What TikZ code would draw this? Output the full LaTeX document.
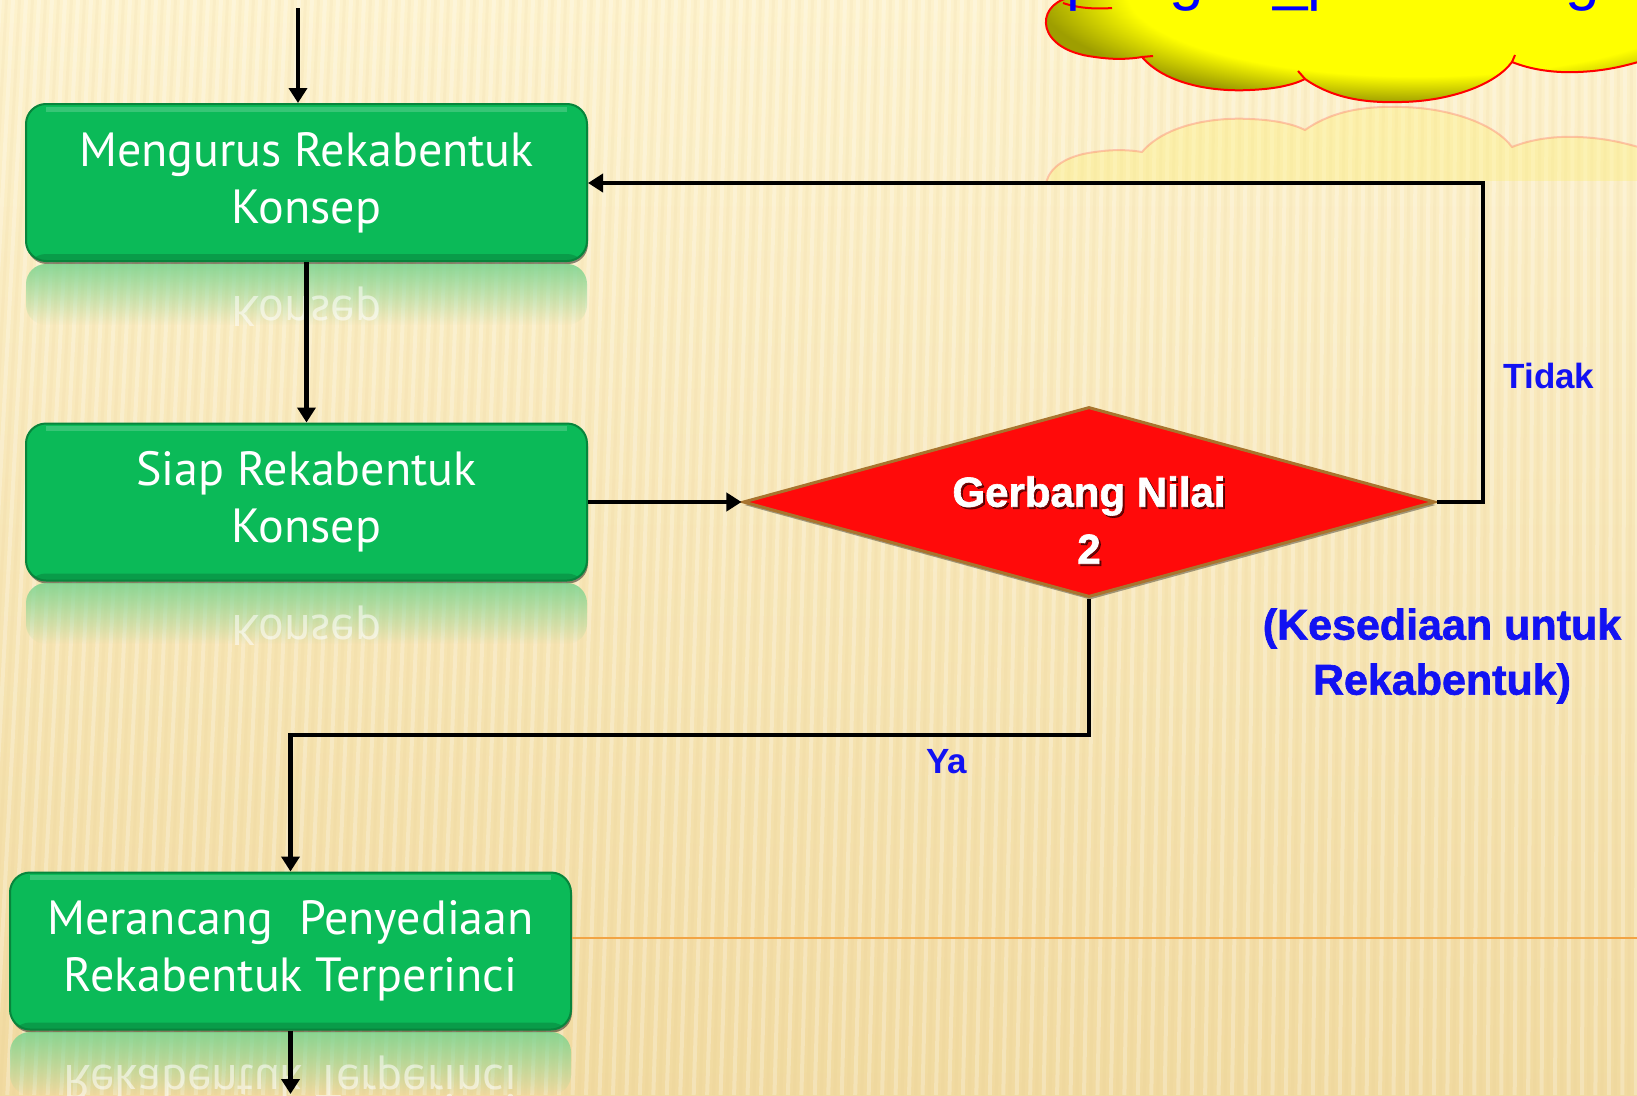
\documentclass[tikz,border=0pt]{standalone}
\usepackage{fontspec}
\setmainfont{PT Sans}
\newfontfamily\lsans{Liberation Sans}
\newfontfamily\heavy[BoldFeatures={FakeBold=1.5}]{Liberation Sans}
\usetikzlibrary{arrows.meta,shapes.geometric,shadows,fadings}
\definecolor{bgtop}{HTML}{FDF2CD}
\definecolor{bgbot}{HTML}{F1DAA0}
\definecolor{boxgreen}{HTML}{0BBA58}
\definecolor{boxedge}{HTML}{07853C}
\definecolor{dred}{HTML}{FF0A0A}
\definecolor{dedge}{HTML}{A8742E}
\definecolor{lblue}{HTML}{1212F2}
\definecolor{orline}{HTML}{F2A444}
\pgfdeclareradialshading{cloudsh}{\pgfpoint{0bp}{0bp}}{color(0bp)=(yellow); color(19bp)=(yellow); color(25bp)=(yellow!62!black); color(50bp)=(yellow!62!black)}
\newcommand\cloudoutline{(1068,-120) -- (1068,-2) .. controls (1035,6) and (1035,50) .. (1095,57) .. controls (1115,60) and (1130,59) .. (1142,57) .. controls (1165,84) and (1212,92) .. (1250,90) .. controls (1275,89) and (1293,85) .. (1305,79) .. controls (1335,100) and (1370,103) .. (1402,102) .. controls (1450,101) and (1495,85) .. (1512,62) .. controls (1532,70) and (1555,73) .. (1578,72) .. controls (1605,71) and (1625,66) .. (1645,60) -- (1800,60) -- (1800,-120) -- cycle}
\begin{document}
\begin{tikzpicture}[x=1pt,y=-1pt,
  stepbox/.style={rectangle, rounded corners=20pt, fill=boxgreen, draw=boxedge, line width=2pt,
    minimum width=561pt, minimum height=157pt, text=white, align=center,
    font=\fontsize{48}{57}\selectfont,
    path picture={
      \fill[black, opacity=.16] ([yshift=7pt]path picture bounding box.south west) rectangle (path picture bounding box.south east);
      \draw[white, opacity=.18, line width=5pt] ([xshift=20pt,yshift=-5pt]path picture bounding box.north west) -- ([xshift=-20pt,yshift=-5pt]path picture bounding box.north east);
    },
    drop shadow={shadow xshift=1pt, shadow yshift=-3pt, opacity=.45, fill=black}},
  reflbox/.style={fill=boxgreen!55!bgtop, opacity=.85, path fading=south, rounded corners=20pt},
  refltext/.style={text=white, opacity=.55, font=\fontsize{48}{57}\selectfont},
  flow/.style={line width=4.5pt, -{Triangle[length=15pt,width=18pt]}},
  lbl/.style={text=lblue, font=\lsans\bfseries\fontsize{35}{40}\selectfont}
]
\useasboundingbox (0,0) rectangle (1637,1095);
\clip (0,0) rectangle (1637,1095);
% background
\fill[top color=bgtop, bottom color=bgbot] (0,0) rectangle (1637,1095);
\foreach \i in {0,13,...,1700}{
  \pgfmathsetmacro\s{\i-60+0.0353*\i}
  \draw[white, opacity=.25, line width=4pt] (\i,0) -- (\s,1095);
  \draw[bgbot!80!brown, opacity=.10, line width=3pt] (\i+6.5,0) -- (\s+6.5,1095);
}
% cloud reflection
\begin{scope}
  \clip (1040,104) rectangle (1637,180);
  \begin{scope}[shift={(0,209)}, yscale=-1]
    \path[fill=yellow!50!bgtop, fill opacity=.3, draw=red!70, draw opacity=.28, line width=2pt] \cloudoutline;
  \end{scope}
\end{scope}
% cloud
\path[shading=cloudsh, draw=red, line width=2pt] \cloudoutline;
\draw[red, line width=2pt] (1063,3) .. controls (1080,9) and (1100,9) .. (1112,8);
\draw[red, line width=2pt] (1142,57) -- (1153,56);
\draw[red, line width=2pt] (1305,79) -- (1298,71);
\draw[red, line width=2pt] (1512,62) -- (1515,55);
\node[anchor=base west, text=blue, inner sep=0pt, font=\lsans\fontsize{62}{62}\selectfont] (ct) at (1066,-2) {pengha\_perancang};
% orange line
\coordinate (oe) at (1637,938);
% boxes
\node[stepbox] (b1) at (306.5,182.5) {Mengurus Rekabentuk\\Konsep};
\node[stepbox] (b2) at (306.5,502) {Siap Rekabentuk\\Konsep};
\node[stepbox] (b3) at (290.5,951) {Merancang\ \ Penyediaan\\Rekabentuk Terperinci};
\draw[orline, line width=1.5pt] (b3.east |- oe) -- (oe);
% reflections
\begin{scope}
  \clip (26,264) rectangle (587,325);
  \fill[reflbox] (26,264) rectangle (587,325);
  \node[refltext] (r1) at (306.5,308) {\scalebox{1}[-1]{Konsep}};
\end{scope}
\begin{scope}
  \clip (26,583) rectangle (587,644);
  \fill[reflbox] (26,583) rectangle (587,644);
  \node[refltext] (r2) at (306.5,627) {\scalebox{1}[-1]{Konsep}};
\end{scope}
\begin{scope}
  \clip (10,1032) rectangle (571,1095);
  \fill[reflbox] (10,1032) rectangle (571,1095);
  \node[refltext] (r3) at (290.5,1078) {\scalebox{1}[-1]{Rekabentuk Terperinci}};
\end{scope}
% decision
\node[diamond, aspect=3.64, minimum width=692pt, minimum height=190pt, inner sep=0pt,
  fill=dred, draw=dedge, line width=3pt,
  drop shadow={shadow xshift=1pt, shadow yshift=-3pt, opacity=.35, fill=black}] (dm) at (1089,502) {};
\node[text=black, opacity=.55, align=center, font=\heavy\bfseries\fontsize{42}{57}\selectfont] (dts) at (1091,522) {Gerbang Nilai\\2};
\node[text=white, align=center, font=\heavy\bfseries\fontsize{42}{57}\selectfont] (dt) at (1089,520) {Gerbang Nilai\\2};
% connectors
\coordinate (tin) at (298,8);
\draw[flow] (tin) -- (tin |- b1.north);
\draw[flow] (b1) -- (b2);
\draw[flow] (b2) -- (dm);
\coordinate (tk) at (1483,183);
\draw[flow] (dm.east) -| (tk) -- (b1.east |- tk);
\coordinate (yc) at (290.5,735);
\draw[flow] (dm.south) |- (yc) -- (b3.north);
\coordinate (bend) at (290.5,1094);
\draw[flow] (b3) -- (bend);
% labels
\node[lbl] (tidak) at (1549,376) {Tidak};
\node[lbl] (ya) at (947,762) {Ya};
\node[text=lblue, align=center, font=\heavy\bfseries\fontsize{43}{55}\selectfont] (kes) at (1442,656) {(Kesediaan untuk\\Rekabentuk)};
\end{tikzpicture}
\end{document}
